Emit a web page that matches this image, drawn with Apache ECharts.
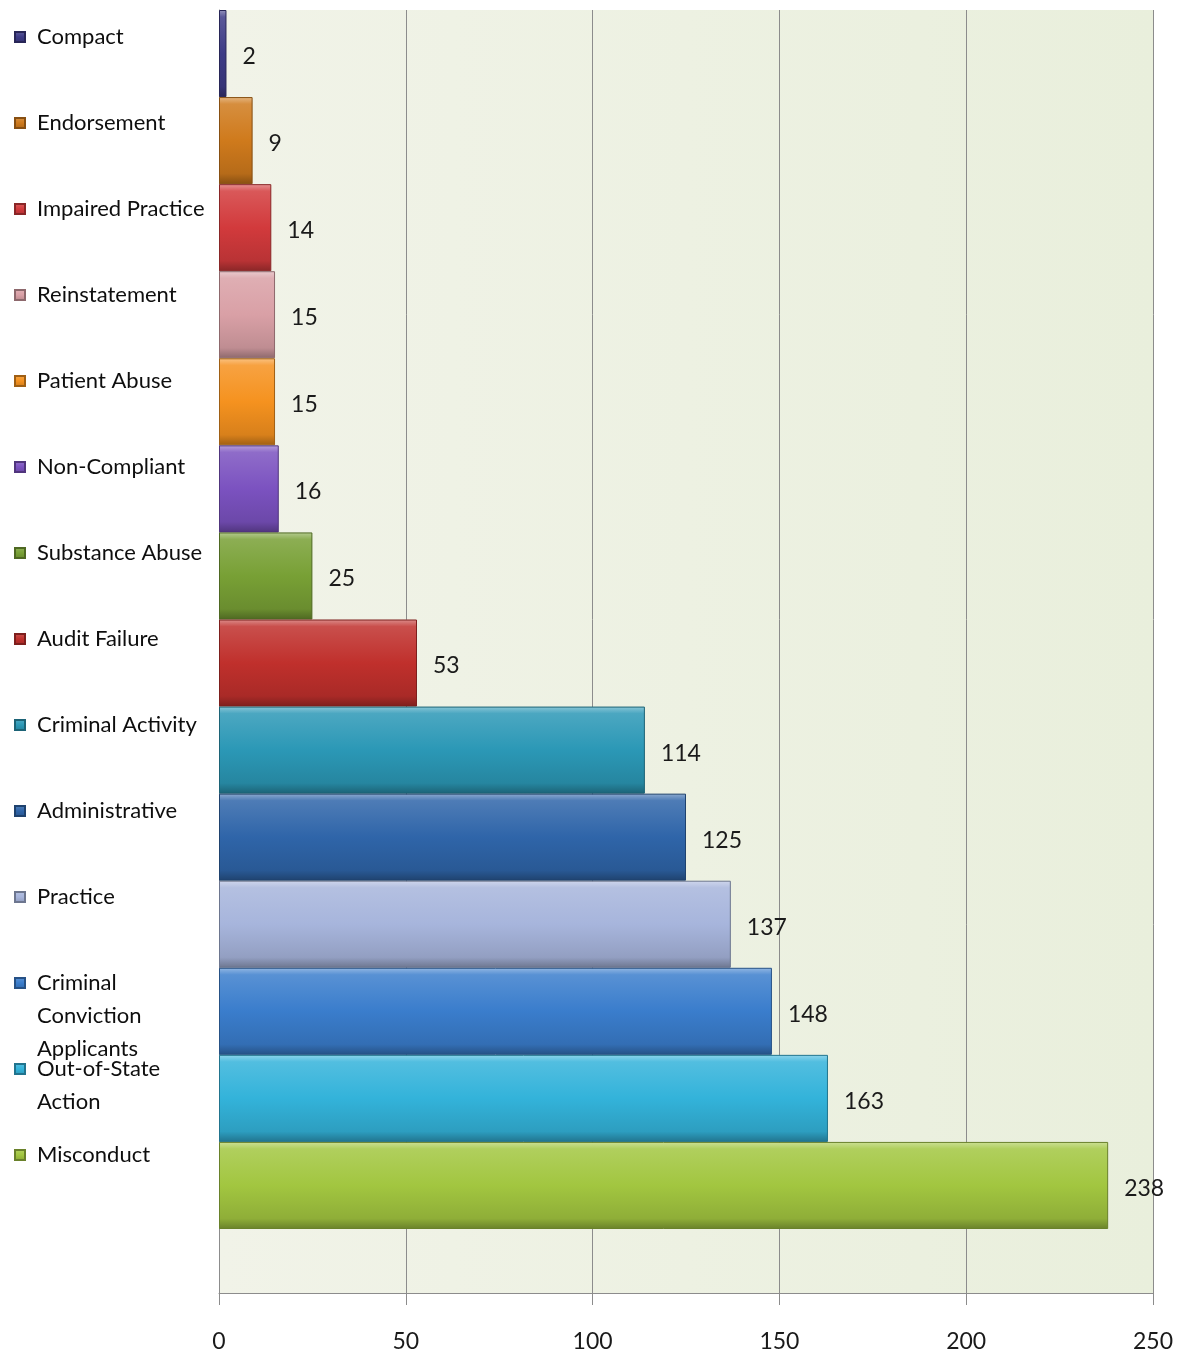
<!DOCTYPE html>
<html>
<head>
<meta charset="utf-8">
<script src="https://cdn.jsdelivr.net/npm/echarts@6/dist/echarts.min.js"></script>
<style>html,body{margin:0;padding:0;background:#fff;}#c{width:1182px;height:1357px;}</style>
</head>
<body>
<div id="c"></div>
<script>
const categories = ['Compact','Endorsement','Impaired Practice','Reinstatement','Patient Abuse','Non-Compliant','Substance Abuse','Audit Failure','Criminal Activity','Administrative','Practice','Criminal Conviction Applicants','Out-of-State Action','Misconduct'];
const legendLabels = ['Compact','Endorsement','Impaired Practice','Reinstatement','Patient Abuse','Non-Compliant','Substance Abuse','Audit Failure','Criminal Activity','Administrative','Practice','Criminal\nConviction\nApplicants','Out-of-State\nAction','Misconduct'];
const values = [2, 9, 14, 15, 15, 16, 25, 53, 114, 125, 137, 148, 163, 238];
const colors = ['#3d3b86','#cf7a1c','#d23a3c','#d9a0a6','#f5921f','#7b52c0','#78a035','#c0302c','#2b98b6','#2f65a9','#a7b5dc','#3a7dcc','#33b3da','#a2c640'];
const xTicks = [0, 50, 100, 150, 200, 250];

function shade(hex, f) {
  const n = parseInt(hex.slice(1), 16);
  let r = (n >> 16) & 255, g = (n >> 8) & 255, b = n & 255;
  if (f >= 0) { r += (255 - r) * f; g += (255 - g) * f; b += (255 - b) * f; }
  else { r *= (1 + f); g *= (1 + f); b *= (1 + f); }
  return 'rgb(' + Math.round(r) + ',' + Math.round(g) + ',' + Math.round(b) + ')';
}

const chart = echarts.init(document.getElementById('c'));
const FONT = 'Lato, "Open Sans", sans-serif';
const gridColor = '#8c8c8c';

const series = categories.map(function (name, i) {
  const data = categories.map(function (_, j) { return j === i ? values[i] : '-'; });
  const c = colors[i];
  return {
    type: 'bar',
    name: name,
    stack: 'all',
    xAxisIndex: 0,
    yAxisIndex: 0,
    barCategoryGap: '0%',
    data: data,
    itemStyle: {
      color: new echarts.graphic.LinearGradient(0, 0, 0, 1, [
        { offset: 0, color: shade(c, 0.45) },
        { offset: 0.08, color: shade(c, 0.15) },
        { offset: 0.5, color: c },
        { offset: 0.88, color: shade(c, -0.12) },
        { offset: 1, color: shade(c, -0.35) }
      ]),
      borderColor: shade(c, -0.35),
      borderWidth: 1
    },
    label: {
      show: true,
      position: 'right',
      distance: 16,
      offset: [0, 3],
      fontFamily: FONT,
      fontSize: 23,
      color: '#1a1a1a'
    }
  };
});

const legends = categories.map(function (name, i) {
  return {
    orient: 'vertical',
    left: 14,
    top: 26 + 86 * i,
    padding: 0,
    itemWidth: 10,
    itemHeight: 10,
    icon: 'rect',
    selectedMode: false,
    data: [name],
    formatter: function (n) {
      return legendLabels[categories.indexOf(n)].split('\n').map(function (l) { return '{t|' + l + '}'; }).join('\n');
    },
    textStyle: {
      height: 33,
      padding: [0, 0, 0, 7],
      rich: {
        t: { fontFamily: FONT, fontSize: 22, color: '#0e0e0e', lineHeight: 33 }
      }
    }
  };
});

const plotBg = new echarts.graphic.LinearGradient(0, 0, 1, 0, [
  { offset: 0, color: '#f1f3e8' },
  { offset: 1, color: '#e9efdc' }
]);

chart.setOption({
  animation: false,
  backgroundColor: '#ffffff',
  legend: legends,
  grid: [
    { left: 219, right: 29, top: 10, bottom: 128, show: true, backgroundColor: plotBg, borderWidth: 0 },
    { left: 219, right: 29, top: 1229, bottom: 64, show: true, backgroundColor: plotBg, borderWidth: 0 }
  ],
  xAxis: [
    {
      gridIndex: 0, type: 'value', min: xTicks[0], max: xTicks[xTicks.length - 1], interval: 50,
      axisLabel: { show: false }, axisLine: { show: false }, axisTick: { show: false },
      splitLine: { show: true, lineStyle: { color: gridColor, width: 1 } }
    },
    {
      gridIndex: 1, type: 'value', min: xTicks[0], max: xTicks[xTicks.length - 1], interval: 50,
      axisLabel: { show: true, fontFamily: FONT, fontSize: 23, color: '#1a1a1a', margin: 37 },
      axisLine: { show: true, lineStyle: { color: gridColor, width: 1 } },
      axisTick: { show: true, length: 12, lineStyle: { color: gridColor } },
      splitLine: { show: true, lineStyle: { color: gridColor, width: 1 } }
    }
  ],
  yAxis: [
    {
      gridIndex: 0, type: 'category', inverse: true, data: categories,
      axisLabel: { show: false }, axisTick: { show: false },
      axisLine: { show: true, lineStyle: { color: gridColor, width: 1 } },
      splitLine: { show: false }
    },
    {
      gridIndex: 1, type: 'category', data: [''],
      axisLabel: { show: false }, axisTick: { show: false },
      axisLine: { show: true, lineStyle: { color: gridColor, width: 1 } },
      splitLine: { show: false }
    }
  ],
  series: series
});
</script>
</body>
</html>
